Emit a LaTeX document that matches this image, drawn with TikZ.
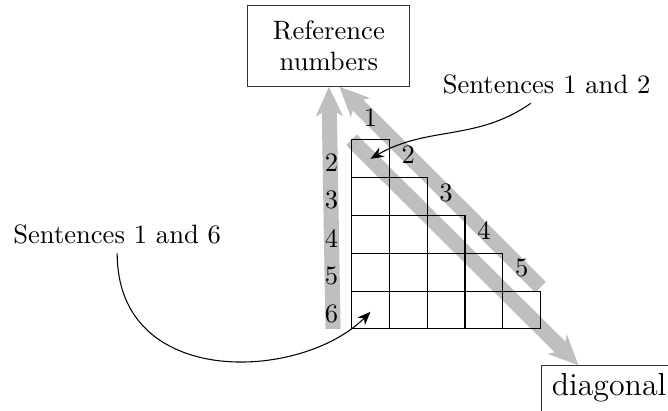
\documentclass[tikz,border=0pt]{standalone}
\usetikzlibrary{arrows.meta}
\begin{document}
\begin{tikzpicture}[x=0.5cm,y=0.5cm]
  \tikzset{
    band/.style={line width=2mm,draw=black!25,-{Stealth[length=11pt,width=10pt,inset=3pt]}},
    cell/.style={draw=black},
    box/.style={draw=black!80,align=center},
    pointer/.style={-{Stealth[length=5pt,width=4pt]}}
  }
  \useasboundingbox (-9.30,-2.15) rectangle (8.37,8.70);

  % Target boxes of the two reading directions.
  \node[box,minimum width=61pt,minimum height=30.5pt] (ref) at (-0.60,7.49) {Reference\\numbers};
  \node[box,font=\large,anchor=north west,inner xsep=4pt,inner ysep=3pt,text depth=4pt] (diag) at (5.0,-0.96) {diagonal};

  % Grey reading bands, kept under the grid.
  \coordinate (colfoot) at (-0.49,0);
  \coordinate (rowfoot) at (5,1.1);
  \coordinate (diagfoot) at (0,5);
  \draw[band] (colfoot) -- (ref.south);
  \draw[band] (rowfoot) -- ([xshift=4pt]ref.south);
  \draw[band] (diagfoot) -- ([xshift=0.5cm]diag.north west);

  % Staircase of cells.
  \foreach \i in {1,...,5} {
    \foreach \j in {1,...,\i}
      \draw[cell] ({\j-1},{5-\i}) rectangle (\j,{6-\i});
  }

  % Row and column numbers.
  \foreach \k in {2,...,6}
    \node (row\k) at (-0.53,{6.4-\k}) {\k};
  \foreach \k in {1,...,5}
    \node (col\k) at ({\k-0.5},{6.6-\k}) {\k};

  % Callouts into the first cells.
  \node (s12) at (5.16,6.47) {Sentences 1 and 2};
  \node (s16) at (-6.20,2.50) {Sentences 1 and 6};
  \coordinate (c12) at (0.5,4.5);
  \coordinate (c16) at (0.5,0.45);
  \draw[pointer] ([xshift=-6pt]s12.south) to[out=215,in=30] (c12);
  \draw[pointer] (s16.south) .. controls +(-90:3.6) and +(225:2.6) .. (c16);
\end{tikzpicture}
\end{document}
